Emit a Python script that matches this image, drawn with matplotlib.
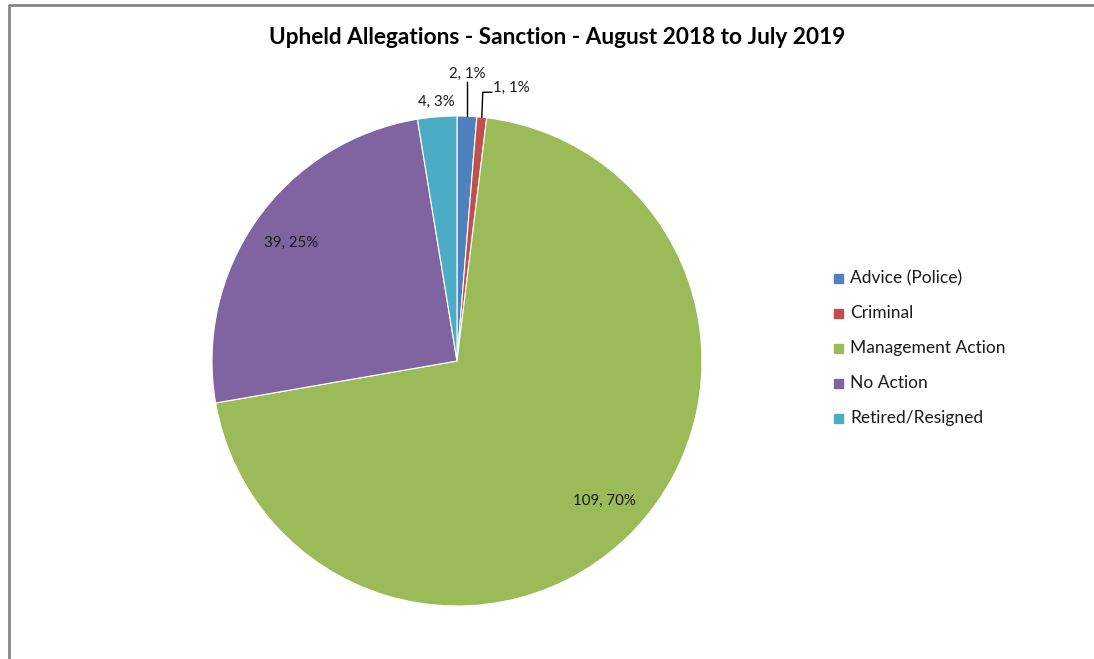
import numpy as np
import matplotlib.pyplot as plt

# data
categories = ['Advice (Police)', 'Criminal', 'Management Action', 'No Action', 'Retired/Resigned']
counts = [2, 1, 109, 39, 4]
colors = ['#4F81BD', '#C0504D', '#9BBB59', '#8064A2', '#4BACC6']

title = 'Upheld Allegations - Sanction - August 2018 to July 2019'

W, H = 1094, 659
fig = plt.figure(figsize=(W / 100, H / 100), dpi=100)
ax = fig.add_axes([0, 0, 1, 1])

plt.rcParams['font.family'] = ['Lato', 'DejaVu Sans']

cx, cy, r = 457, H - 361, 245
wedges, _ = ax.pie(counts, colors=colors, startangle=90, counterclock=False,
                   center=(cx, cy), radius=r, frame=True,
                   wedgeprops=dict(edgecolor='white', linewidth=0.8))
ax.set_xlim(0, W)
ax.set_ylim(0, H)
ax.set_aspect('equal')
ax.axis('off')

# chart border (Excel chart area)
ax.plot([9, 9, W + 5], [-5, H - 5, H - 5], color='#878787', lw=2, solid_capstyle='butt')

total = sum(counts)
labels = [f'{c}, {round(100 * c / total):.0f}%' for c in counts]

def mid(w):
    a = np.deg2rad((w.theta1 + w.theta2) / 2)
    return np.cos(a), np.sin(a)

fs = 10.8
# large slices: labels inside
for i in (2, 3):
    ux, uy = mid(wedges[i])
    ax.text(cx + 0.83 * r * ux, cy + 0.83 * r * uy, labels[i], ha='center', va='center',
            fontsize=fs, color='#1a1a1a')

# Retired/Resigned: just outside
ux, uy = mid(wedges[4])
ax.text(cx + 1.06 * r * ux, cy + 1.06 * r * uy, labels[4], ha='center', va='center',
        fontsize=fs, color='#1a1a1a')

# Advice: vertical leader
ux, uy = mid(wedges[0])
x0, y0 = cx + r * ux, cy + r * uy
ax.plot([x0, x0], [y0, y0 + 34], color='black', lw=1)
ax.text(x0, y0 + 42, labels[0], ha='center', va='center', fontsize=fs, color='#1a1a1a')

# Criminal: bent leader
ux, uy = mid(wedges[1])
x0, y0 = cx + r * ux, cy + r * uy
ax.plot([x0, x0 + 1, x0 + 10], [y0, y0 + 25, y0 + 25], color='black', lw=1)
ax.text(x0 + 11, y0 + 29, labels[1], ha='left', va='center', fontsize=fs, color='#1a1a1a')

# title
ax.text(557, H - 38, title, ha='center', va='center', fontsize=16.3, fontweight='bold',
        color='black')

# legend
for k, (name, col) in enumerate(zip(categories, colors)):
    y = H - (278 + 35 * k)
    ax.add_patch(plt.Rectangle((834, y - 4.5), 9, 9, color=col))
    ax.text(850, y, name, ha='left', va='center', fontsize=12.5, color='#1a1a1a')

fig.savefig('out.png', dpi=100)
